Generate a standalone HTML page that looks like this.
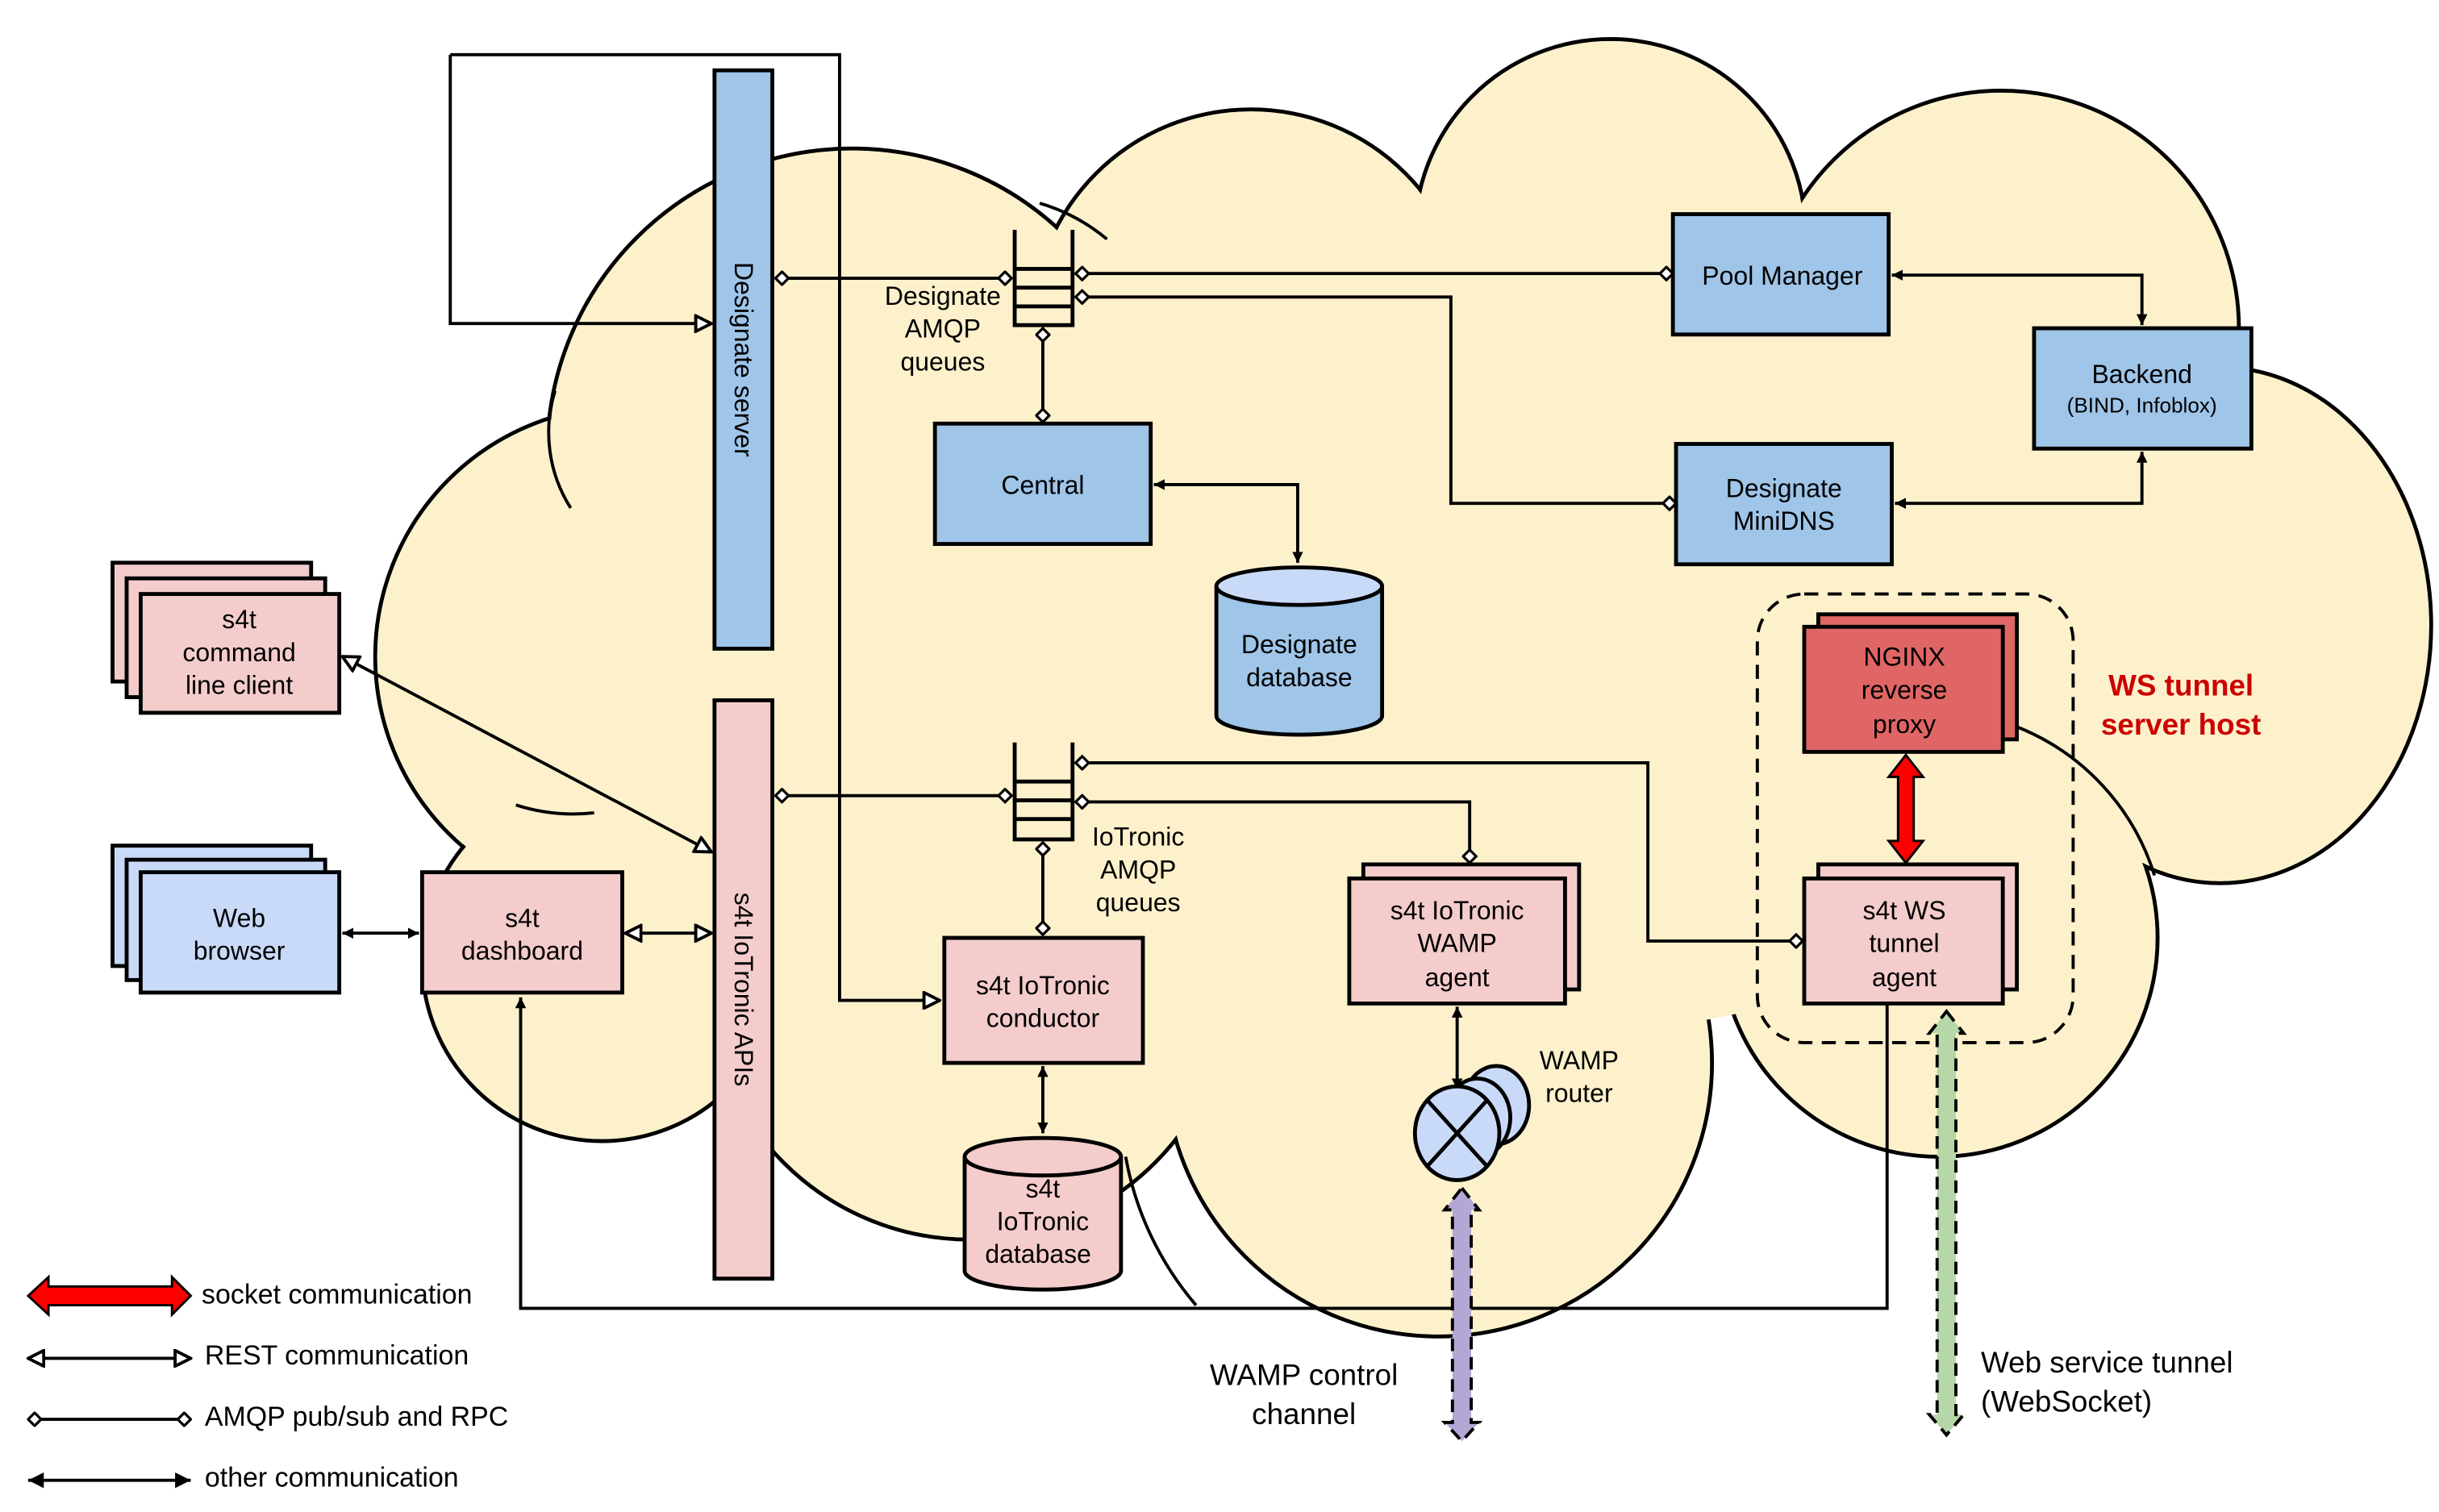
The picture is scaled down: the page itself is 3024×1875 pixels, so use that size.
<!DOCTYPE html>
<html><head><meta charset="utf-8"><style>
html,body{margin:0;padding:0;background:#fff;}
svg{display:block;}
text{font-family:"Liberation Sans",sans-serif;font-size:16.5px;fill:#000;}
</style></head><body>
<svg width="3024" height="1875" viewBox="0 0 1560 967.3" preserveAspectRatio="none" xmlns="http://www.w3.org/2000/svg">
<defs>
<marker id="fa" viewBox="0 0 10 10" refX="10" refY="5" markerWidth="7" markerHeight="7" orient="auto-start-reverse" markerUnits="userSpaceOnUse"><path d="M0,0 L10,5 L0,10 z" fill="#000"/></marker>
<marker id="fb" viewBox="0 0 10 10" refX="10" refY="5" markerWidth="12" markerHeight="10" orient="auto-start-reverse" markerUnits="userSpaceOnUse"><path d="M0,0 L10,5 L0,10 z" fill="#000"/></marker>
<marker id="oa" viewBox="0 0 12 12" refX="11" refY="6" markerWidth="12" markerHeight="12" orient="auto-start-reverse" markerUnits="userSpaceOnUse"><path d="M1,1 L11,6 L1,11 z" fill="#fff" stroke="#000" stroke-width="2"/></marker>
<marker id="dm" viewBox="0 0 12 12" refX="11" refY="6" markerWidth="10" markerHeight="10" orient="auto-start-reverse" markerUnits="userSpaceOnUse"><path d="M1,6 L6,1 L11,6 L6,11 z" fill="#fff" stroke="#000" stroke-width="2"/></marker>
</defs>
<g stroke="#000" stroke-width="2.5" fill="#fdf1cc">
<circle cx="545" cy="290" r="195"/>
<circle cx="800" cy="210" r="140"/>
<circle cx="1030" cy="150" r="125"/>
<circle cx="1280" cy="210" r="152"/>
<ellipse cx="1420" cy="400" rx="135" ry="165"/>
<circle cx="1240" cy="600" r="140"/>
<circle cx="920" cy="680" r="175"/>
<circle cx="620" cy="625" r="168"/>
<circle cx="400" cy="420" r="160"/>
<circle cx="385" cy="615" r="115"/>
</g>
<g fill="#fdf1cc">
<circle cx="545" cy="290" r="193.7"/>
<circle cx="800" cy="210" r="138.7"/>
<circle cx="1030" cy="150" r="123.7"/>
<circle cx="1280" cy="210" r="150.7"/>
<ellipse cx="1420" cy="400" rx="133.7" ry="163.7"/>
<circle cx="1240" cy="600" r="138.7"/>
<circle cx="920" cy="680" r="173.7"/>
<circle cx="620" cy="625" r="166.7"/>
<circle cx="400" cy="420" r="158.7"/>
<circle cx="385" cy="615" r="113.7"/>
<ellipse cx="900" cy="420" rx="520" ry="250"/>
</g>
<g fill="none" stroke="#000" stroke-width="2">
<path d="M365,325 A90,90 0 0 1 355,250"/>
<path d="M665,130 A120,120 0 0 1 708,153"/>
<path d="M1290,465 A150,150 0 0 1 1378,560"/>
<path d="M380,520 A120,120 0 0 1 330,515"/>
<path d="M720,740 A200,200 0 0 0 765,835"/>
</g>

<g stroke="#000" stroke-width="2" fill="none">
<path d="M288,35 L537,35 L537,640 L601,640" marker-end="url(#oa)"/>
<path d="M288,35 L288,207 L455,207" marker-end="url(#oa)"/>
<path d="M496,178 L647,178" marker-start="url(#dm)" marker-end="url(#dm)"/>
<path d="M688,175 L1070,175" marker-start="url(#dm)" marker-end="url(#dm)"/>
<path d="M688,190 L928,190 L928,322 L1072,322" marker-start="url(#dm)" marker-end="url(#dm)"/>
<path d="M667,210 L667,270" marker-start="url(#dm)" marker-end="url(#dm)"/>
<path d="M738,310 L830,310 L830,360" marker-start="url(#fa)" marker-end="url(#fa)"/>
<path d="M1210,176 L1370,176 L1370,208" marker-start="url(#fa)" marker-end="url(#fa)"/>
<path d="M1212,322 L1370,322 L1370,289" marker-start="url(#fa)" marker-end="url(#fa)"/>
<path d="M496,509 L647,509" marker-start="url(#dm)" marker-end="url(#dm)"/>
<path d="M688,488 L1054,488 L1054,602 L1153,602" marker-start="url(#dm)" marker-end="url(#dm)"/>
<path d="M688,513 L940,513 L940,552" marker-start="url(#dm)" marker-end="url(#dm)"/>
<path d="M667,539 L667,598" marker-start="url(#dm)" marker-end="url(#dm)"/>
<path d="M667,682 L667,725" marker-start="url(#fa)" marker-end="url(#fa)"/>
<path d="M932,644 L932,697" marker-start="url(#fa)" marker-end="url(#fa)"/>
<path d="M219,597 L268,597" marker-start="url(#fa)" marker-end="url(#fa)"/>
<path d="M400,597 L455,597" marker-start="url(#oa)" marker-end="url(#oa)"/>
<path d="M219,420 L455,545" marker-start="url(#oa)" marker-end="url(#oa)"/>
<path d="M1207,642 L1207,837 L333,837 L333,638" marker-end="url(#fa)"/>
</g>

<rect x="457" y="45" width="37" height="370" fill="#9fc5e8" stroke="#000" stroke-width="2.5"/>
<text transform="translate(470,230) rotate(90)" text-anchor="middle">Designate  server</text>
<rect x="457" y="448" width="37" height="370" fill="#f4cccc" stroke="#000" stroke-width="2.5"/>
<text transform="translate(470,633) rotate(90)" text-anchor="middle">s4t IoTronic APIs</text>

<g stroke="#000" stroke-width="2.5" fill="none">
<path d="M649,147 L649,208 L686,208 L686,147"/>
<path d="M649,172 L686,172 M649,184 L686,184 M649,196 L686,196"/>
<path d="M649,475 L649,537 L686,537 L686,475"/>
<path d="M649,500 L686,500 M649,512 L686,512 M649,524 L686,524"/>
</g>
<text x="603" y="195" text-anchor="middle">Designate</text>
<text x="603" y="216" text-anchor="middle">AMQP</text>
<text x="603" y="237" text-anchor="middle">queues</text>
<text x="728" y="541" text-anchor="middle">IoTronic</text>
<text x="728" y="562" text-anchor="middle">AMQP</text>
<text x="728" y="583" text-anchor="middle">queues</text>

<g stroke="#000" stroke-width="2.5">
<rect x="598" y="271" width="138" height="77" fill="#9fc5e8"/>
<rect x="1070" y="137" width="138" height="77" fill="#9fc5e8"/>
<rect x="1301" y="210" width="139" height="77" fill="#9fc5e8"/>
<rect x="1072" y="284" width="138" height="77" fill="#9fc5e8"/>
<rect x="604" y="600" width="127" height="80" fill="#f4cccc"/>
<rect x="872" y="553" width="138" height="80" fill="#f4cccc"/>
<rect x="863" y="562" width="138" height="80" fill="#f4cccc"/>
<rect x="1163" y="393" width="127" height="80" fill="#e06666"/>
<rect x="1154" y="401" width="127" height="80" fill="#e06666"/>
<rect x="1163" y="553" width="127" height="80" fill="#f4cccc"/>
<rect x="1154" y="562" width="127" height="80" fill="#f4cccc"/>
<rect x="72" y="360" width="127" height="76" fill="#f4cccc"/>
<rect x="81" y="370" width="127" height="76" fill="#f4cccc"/>
<rect x="90" y="380" width="127" height="76" fill="#f4cccc"/>
<rect x="72" y="541" width="127" height="77" fill="#c9daf8"/>
<rect x="81" y="550" width="127" height="77" fill="#c9daf8"/>
<rect x="90" y="558" width="127" height="77" fill="#c9daf8"/>
<rect x="270" y="558" width="128" height="77" fill="#f4cccc"/>
</g>
<g stroke="#000" stroke-width="2.5">
<path d="M778,375 L778,458 A53,12 0 0 0 884,458 L884,375" fill="#9fc5e8"/>
<ellipse cx="831" cy="375" rx="53" ry="12" fill="#c9daf8"/>
<path d="M617,740 L617,813 A50,12 0 0 0 717,813 L717,740" fill="#f4cccc"/>
<ellipse cx="667" cy="740" rx="50" ry="12" fill="#f4cccc"/>
</g>
<g stroke="#000" stroke-width="2.5" fill="#c9daf8">
<ellipse cx="957" cy="707" rx="21" ry="25"/>
<ellipse cx="945" cy="715" rx="21" ry="25"/>
<ellipse cx="932" cy="725" rx="27" ry="30"/>
<path d="M913,704 L951,746 M951,704 L913,746" fill="none"/>
</g>
<text x="1010" y="684" text-anchor="middle">WAMP</text>
<text x="1010" y="705" text-anchor="middle">router</text>

<rect x="1124" y="380" width="202" height="287" rx="30" fill="none" stroke="#000" stroke-width="2" stroke-dasharray="9,6"/>
<path d="M1219,483 L1230,497 L1224,497 L1224,538 L1230,538 L1219,552 L1208,538 L1214,538 L1214,497 L1208,497 Z" fill="#f00" stroke="#000" stroke-width="1.5"/>
<path d="M935,760 L946,774 L941,774 L941,910 L946,910 L935,922 L924,910 L929,910 L929,774 L924,774 Z" fill="#b4a7d6" stroke="#000" stroke-width="2" stroke-dasharray="8,5"/>
<path d="M1245,647 L1256,661 L1251,661 L1251,905 L1256,905 L1245,918 L1234,905 L1239,905 L1239,661 L1234,661 Z" fill="#b6d7a8" stroke="#000" stroke-width="2" stroke-dasharray="8,5"/>

<g text-anchor="middle">
<text x="667" y="316">Central</text>
<text x="1140" y="182">Pool Manager</text>
<text x="1370" y="245">Backend</text>
<text x="1370" y="264" style="font-size:13.5px">(BIND, Infoblox)</text>
<text x="1141" y="318">Designate</text>
<text x="1141" y="339">MiniDNS</text>
<text x="831" y="418">Designate</text>
<text x="831" y="439">database</text>
<text x="667" y="766">s4t</text>
<text x="667" y="787">IoTronic</text>
<text x="664" y="808">database</text>
<text x="667" y="636">s4t IoTronic</text>
<text x="667" y="657">conductor</text>
<text x="932" y="588">s4t IoTronic</text>
<text x="932" y="609">WAMP</text>
<text x="932" y="631">agent</text>
<text x="1218" y="426">NGINX</text>
<text x="1218" y="447">reverse</text>
<text x="1218" y="469">proxy</text>
<text x="1218" y="588">s4t WS</text>
<text x="1218" y="609">tunnel</text>
<text x="1218" y="631">agent</text>
<text x="153" y="402">s4t</text>
<text x="153" y="423">command</text>
<text x="153" y="444">line client</text>
<text x="153" y="593">Web</text>
<text x="153" y="614">browser</text>
<text x="334" y="593">s4t</text>
<text x="334" y="614">dashboard</text>
<text x="1395" y="445" style="fill:#cc0000;font-weight:bold;font-size:19px">WS tunnel</text>
<text x="1395" y="470" style="fill:#cc0000;font-weight:bold;font-size:19px">server host</text>
<text x="834" y="886" style="font-size:19px">WAMP control</text>
<text x="834" y="911" style="font-size:19px">channel</text>
</g>
<text x="1267" y="878" style="font-size:19px">Web service tunnel</text>
<text x="1267" y="903" style="font-size:19px">(WebSocket)</text>

<path d="M18,829 L31,817 L31,823 L110,823 L110,817 L122,829 L110,841 L110,835 L31,835 L31,841 Z" fill="#f00" stroke="#000" stroke-width="1.5"/>
<g stroke="#000" stroke-width="2" fill="none">
<path d="M18,869 L122,869" marker-start="url(#oa)" marker-end="url(#oa)"/>
<path d="M18,908 L122,908" marker-start="url(#dm)" marker-end="url(#dm)"/>
<path d="M18,947 L122,947" marker-start="url(#fb)" marker-end="url(#fb)"/>
</g>
<text x="129" y="834" style="font-size:17.5px">socket communication</text>
<text x="131" y="873" style="font-size:17.5px">REST communication</text>
<text x="131" y="912" style="font-size:17.5px">AMQP pub/sub and RPC</text>
<text x="131" y="951" style="font-size:17.5px">other communication</text>
</svg>
</body></html>
